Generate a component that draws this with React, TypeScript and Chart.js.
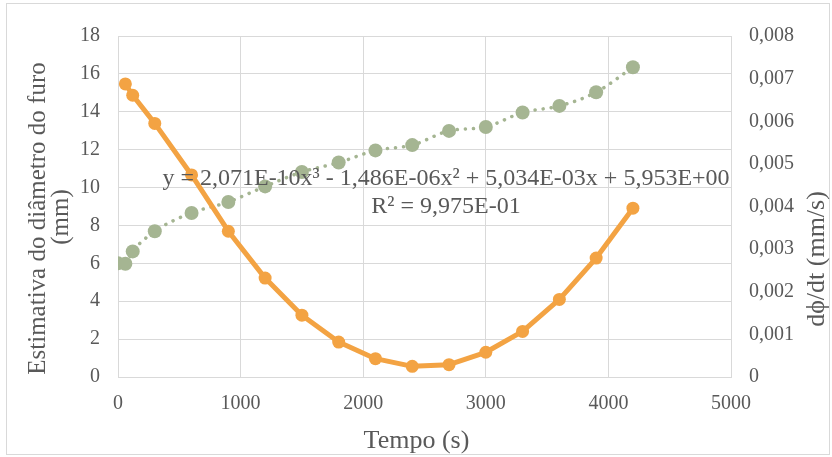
import React, { useEffect, useRef } from 'react';
import { Chart, registerables } from 'chart.js';

Chart.register(...registerables);

// Data
const timeDiameter = [0, 60, 120, 300, 600, 900, 1200, 1500, 1800, 2100, 2400, 2700, 3000, 3300, 3600, 3900, 4200];
const diameter = [6.0, 5.98, 6.63, 7.69, 8.66, 9.24, 10.06, 10.82, 11.32, 11.96, 12.24, 12.99, 13.2, 13.96, 14.31, 15.03, 16.35];
const timeRate = [60, 120, 300, 600, 900, 1200, 1500, 1800, 2100, 2400, 2700, 3000, 3300, 3600, 3900, 4200];
const rate = [0.006875, 0.00661, 0.00595, 0.00474, 0.00342, 0.00232, 0.00145, 0.00082, 0.00043, 0.00025, 0.00029, 0.00058, 0.00107, 0.00182, 0.00279, 0.00396];

const xTitle = 'Tempo (s)';
const leftTitle = ['Estimativa do diâmetro do furo', '(mm)'];
const rightTitle = 'dϕ/dt (mm/s)';
const equationLines = ['y = 2,071E-10x³ - 1,486E-06x² + 5,034E-03x + 5,953E+00', 'R² = 9,975E-01'];

const GREEN = '#A5B592';
const ORANGE = '#F3A343';
const TEXT = '#595959';
const GRID = '#D9D9D9';
const FONT = '"Liberation Serif", "Times New Roman", serif';

const textPlugin = {
  id: 'textPlugin',
  afterDraw(chart: any) {
    const ctx = chart.ctx as CanvasRenderingContext2D;
    ctx.save();
    ctx.fillStyle = TEXT;
    // equation
    ctx.font = `24px ${FONT}`;
    ctx.textAlign = 'center';
    ctx.textBaseline = 'alphabetic';
    ctx.fillText(equationLines[0], 446, 185);
    ctx.fillText(equationLines[1], 446, 212.5);
    // x title
    ctx.font = `26px ${FONT}`;
    ctx.fillText(xTitle, 416.5, 448);
    // left title
    ctx.font = `25px ${FONT}`;
    ctx.save();
    ctx.translate(45, 218.5);
    ctx.rotate(-Math.PI / 2);
    ctx.fillText(leftTitle[0], 0, 0);
    ctx.restore();
    ctx.save();
    ctx.translate(68, 217);
    ctx.rotate(-Math.PI / 2);
    ctx.fillText(leftTitle[1], 0, 0);
    ctx.restore();
    // right title
    ctx.font = `26px ${FONT}`;
    ctx.save();
    ctx.translate(824, 259);
    ctx.rotate(-Math.PI / 2);
    ctx.fillText(rightTitle, 0, 0);
    ctx.restore();
    ctx.restore();
  },
};

export default function App() {
  const ref = useRef<HTMLCanvasElement | null>(null);

  useEffect(() => {
    if (!ref.current) return;
    const tickFont = { family: FONT, size: 20 };
    const chart = new Chart(ref.current, {
      type: 'scatter',
      data: {
        datasets: [
          {
            label: 'dphi/dt',
            data: timeRate.map((t, i) => ({ x: t, y: rate[i] })),
            yAxisID: 'y1',
            showLine: true,
            borderColor: ORANGE,
            backgroundColor: ORANGE,
            borderWidth: 5,
            pointRadius: 6.5,
            pointBorderWidth: 0,
            pointBackgroundColor: ORANGE,
            borderJoinStyle: 'round',
            order: 0,
          },
          {
            label: 'diametro',
            data: timeDiameter.map((t, i) => ({ x: t, y: diameter[i] })),
            yAxisID: 'y',
            showLine: false,
            backgroundColor: GREEN,
            borderColor: GREEN,
            pointRadius: 7,
            pointBorderWidth: 0,
            order: 1,
          },
          {
            label: 'tendencia',
            data: timeDiameter.map((t, i) => ({ x: t, y: diameter[i] })),
            yAxisID: 'y',
            showLine: true,
            borderColor: GREEN,
            borderWidth: 3.5,
            borderDash: [0.1, 8],
            borderCapStyle: 'round',
            cubicInterpolationMode: 'monotone',
            pointRadius: 0,
            order: 2,
          },
        ],
      },
      options: {
        animation: false,
        responsive: false,
        maintainAspectRatio: false,
        layout: { padding: { top: 36, left: 0, right: 0, bottom: 0 } },
        plugins: { legend: { display: false }, tooltip: { enabled: false } },
        scales: {
          x: {
            type: 'linear',
            min: 0,
            max: 5000,
            afterFit: (s: any) => { s.height = 80; },
            ticks: {
              stepSize: 1000,
              font: tickFont,
              color: TEXT,
              padding: 15,
              maxRotation: 0,
              callback: (v: any) => String(Math.round(Number(v))),
            },
            grid: { color: GRID, lineWidth: 1, drawTicks: false },
            border: { color: GRID },
          },
          y: {
            type: 'linear',
            position: 'left',
            min: 0,
            max: 18,
            afterFit: (s: any) => { s.width = 118; },
            ticks: { stepSize: 2, font: tickFont, color: TEXT, padding: 18 },
            grid: { color: GRID, lineWidth: 1, drawTicks: false },
            border: { color: GRID },
          },
          y1: {
            type: 'linear',
            position: 'right',
            min: 0,
            max: 0.008,
            afterFit: (s: any) => { s.width = 101; },
            ticks: {
              stepSize: 0.001,
              font: tickFont,
              color: TEXT,
              padding: 18,
              callback: (v: any) => {
                const n = Math.round(Number(v) * 1000);
                if (n === 0) return '0';
                return (n / 1000).toFixed(3).replace('.', ',');
              },
            },
            grid: { drawOnChartArea: false, drawTicks: false },
            border: { color: GRID },
          },
        },
      },
      plugins: [textPlugin],
    } as any);
    return () => chart.destroy();
  }, []);

  return (
    <div>
      <div
        style={{
          position: 'fixed',
          left: 6,
          top: 3,
          width: 824,
          height: 452,
          border: `1px solid ${GRID}`,
          boxSizing: 'border-box',
          background: '#fff',
        }}
      />
      <canvas
        ref={ref}
        width={832}
        height={457}
        style={{ position: 'fixed', left: 0, top: 0, width: 832, height: 457, display: 'block' }}
      />
    </div>
  );
}
